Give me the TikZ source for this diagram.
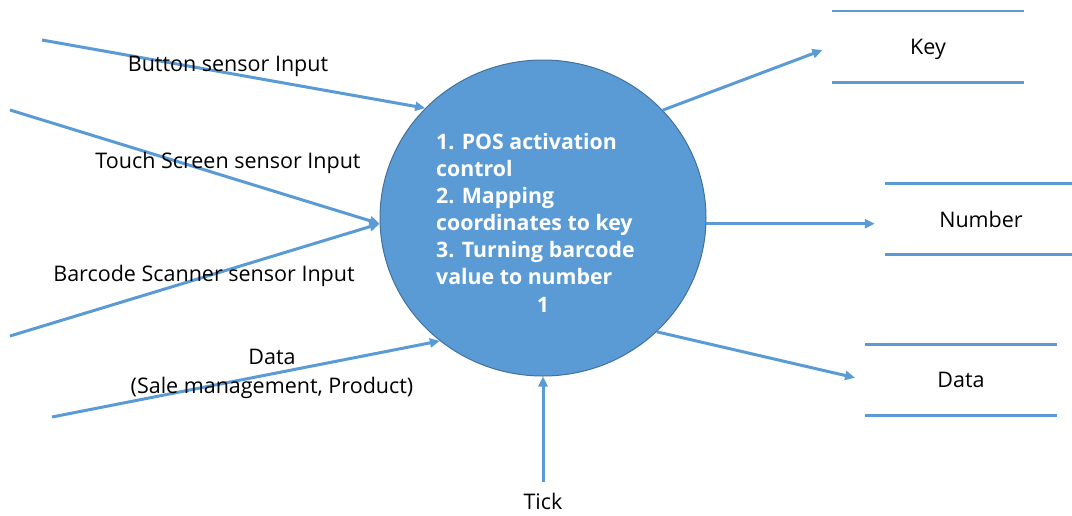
\documentclass[tikz,border=0pt]{standalone}
\usepackage{fontspec}
\setmainfont{Open Sans}
\usetikzlibrary{shapes.geometric,arrows.meta}
\definecolor{flow}{HTML}{5B9BD5}
\definecolor{procfill}{HTML}{5B9BD5}
\definecolor{procedge}{HTML}{41719C}
\tikzset{
  flowline/.style={draw=flow, line width=3pt, -{Triangle[length=10pt,width=9pt]}},
  storeline/.style={draw=flow, line width=2.6pt},
  lbl/.style={font=\fontsize{21.5}{29}\selectfont, text=black, align=center, inner sep=0pt},
  store/.style={minimum width=192pt, minimum height=71pt, inner sep=0pt, text depth=0pt, font=\fontsize{21.5}{24}\selectfont},
  proc/.style={ellipse, fill=procfill, draw=procedge, line width=1pt, minimum width=326pt, minimum height=316pt, inner sep=0pt}
}
\begin{document}
\begin{tikzpicture}[x=1pt,y=-1pt]
\useasboundingbox (0,0) rectangle (1072,515);
\node[proc] (p) at (543,218) {};
\node[anchor=north west, align=left, inner sep=0pt, text=white, font=\bfseries\fontsize{21.3}{27}\selectfont] (ptext) at (436,133)
  {1. POS activation\\control\\2. Mapping\\coordinates to key\\3. Turning barcode\\value to number};
\node[text=white, font=\bfseries\fontsize{21.3}{27}\selectfont, inner sep=0pt] (pnum) at (543,305) {1};

% free ends
\coordinate (bs) at (42,40);
\coordinate (ts) at (10,110);
\coordinate (bc) at (10,336);
\coordinate (ds) at (52,417);
\coordinate (tk) at (543,482);

\draw[flowline] (bs) -- (p.137);
\draw[flowline] (ts) -- (p.182);
\draw[flowline] (bc) -- (p.182);
\draw[flowline] (ds) -- (p.230);
\draw[flowline] (tk) -- (p.270);

\node[lbl] (lb) at (228,66) {Button sensor Input};
\node[lbl] (lt) at (228,163) {Touch Screen sensor Input};
\node[lbl] (lc) at (204,276) {Barcode Scanner sensor Input};
\node[lbl] (ld) at (272,374) {Data\\(Sale management, Product)};
\node[lbl] (ltk) at (543,501) {Tick};

% stores
\node[store] (key) at (928,46.5) {Key};
\node[store] (num) at (981,219) {Number};
\node[store] (dat) at (961,380) {Data};
\foreach \s in {key,num,dat}{
  \draw[storeline] (\s.north west) -- (\s.north east);
  \draw[storeline] (\s.south west) -- (\s.south east);
}
\draw[flowline, shorten >=10pt] (p.42) -- (key.west);
\draw[flowline, shorten >=10pt] (p.358) -- (p.358 -| num.west);
\draw[flowline, shorten >=10pt] (p.315) -- (dat.west);
\end{tikzpicture}
\end{document}
